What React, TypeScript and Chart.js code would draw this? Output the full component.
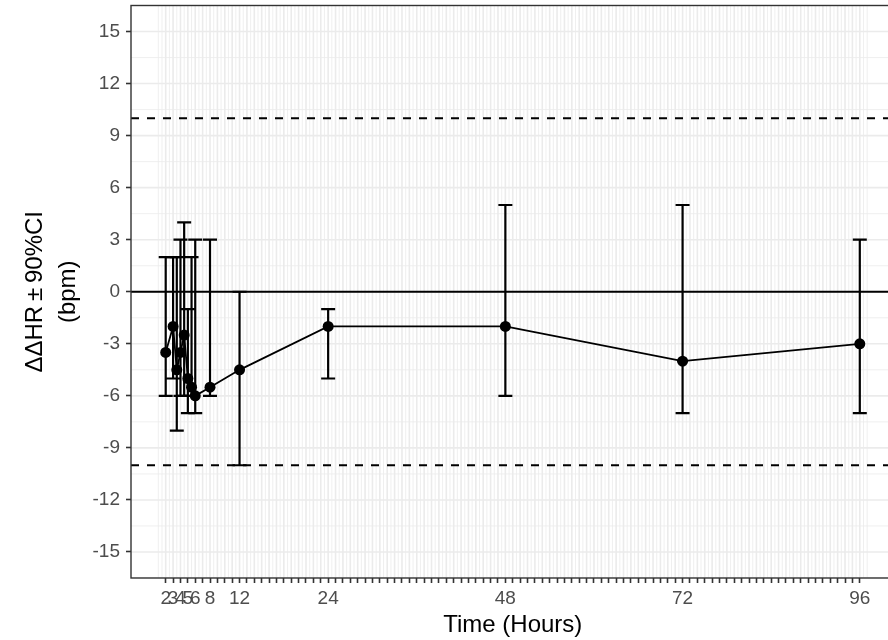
import React, { useEffect, useRef } from "react";
import { Chart, registerables } from "chart.js";

Chart.register(...registerables);

// ---- data ----
const times = [2, 3, 3.5, 4, 4.5, 5, 5.5, 6, 8, 12, 24, 48, 72, 96];
const meanHR = [-3.5, -2, -4.5, -3.5, -2.5, -5, -5.5, -6, -5.5, -4.5, -2, -2, -4, -3];
const lowerCI = [-6, -5, -8, -6, -6, -7, -6, -7, -6, -10, -5, -6, -7, -7];
const upperCI = [2, 2, 2, 3, 4, -1, 2, 3, 3, 0, -1, 5, 5, 3];
const labeledHours = [2, 3, 4, 5, 6, 8, 12, 24, 48, 72, 96];
const hourTicks = Array.from({ length: 95 }, (_, i) => i + 2); // 2..96
const yTicks = [-15, -12, -9, -6, -3, 0, 3, 6, 9, 12, 15];
const limitLines = [-10, 10];
const zeroLine = [0];
const xTitle = "Time (Hours)";
const yTitleLines = ["\u0394\u0394HR\u2009\u00B1\u200990%CI", "(bpm)"];

const X_MIN = -2.7;
const X_MAX = 100.7;
const Y_MIN = -16.5;
const Y_MAX = 16.5;

const FONT = "'Liberation Sans', Arial, sans-serif";

const gridPlugin = {
  id: "ggGrid",
  beforeDatasetsDraw(chart: any) {
    const { ctx, chartArea: a, scales } = chart;
    const x = scales.x;
    const y = scales.y;
    ctx.save();
    ctx.beginPath();
    ctx.rect(a.left, a.top, a.right - a.left, a.bottom - a.top);
    ctx.clip();
    ctx.strokeStyle = "#EBEBEB";
    // minor grid
    ctx.lineWidth = 0.8;
    for (let k = 2; k <= 194; k++) {
      const v = k / 2;
      if (Number.isInteger(v) && v >= 2 && v <= 96) continue;
      const px = x.getPixelForValue(v);
      ctx.beginPath();
      ctx.moveTo(px, a.top);
      ctx.lineTo(px, a.bottom);
      ctx.stroke();
    }
    for (let v = -16.5; v <= 16.5; v += 3) {
      const py = y.getPixelForValue(v);
      ctx.beginPath();
      ctx.moveTo(a.left, py);
      ctx.lineTo(a.right, py);
      ctx.stroke();
    }
    // major grid
    ctx.lineWidth = 1.6;
    hourTicks.forEach((v) => {
      const px = x.getPixelForValue(v);
      ctx.beginPath();
      ctx.moveTo(px, a.top);
      ctx.lineTo(px, a.bottom);
      ctx.stroke();
    });
    yTicks.forEach((v) => {
      const py = y.getPixelForValue(v);
      ctx.beginPath();
      ctx.moveTo(a.left, py);
      ctx.lineTo(a.right, py);
      ctx.stroke();
    });
    // error bars
    ctx.strokeStyle = "#000000";
    ctx.lineWidth = 2.2;
    const half = 7;
    times.forEach((t, i) => {
      const px = x.getPixelForValue(t);
      const pLo = y.getPixelForValue(lowerCI[i]);
      const pHi = y.getPixelForValue(upperCI[i]);
      ctx.beginPath();
      ctx.moveTo(px, pLo);
      ctx.lineTo(px, pHi);
      ctx.moveTo(px - half, pLo);
      ctx.lineTo(px + half, pLo);
      ctx.moveTo(px - half, pHi);
      ctx.lineTo(px + half, pHi);
      ctx.stroke();
    });
    ctx.restore();
  },
  afterDraw(chart: any) {
    const { ctx, chartArea: a } = chart;
    ctx.save();
    ctx.strokeStyle = "#333333";
    ctx.lineWidth = 1.4;
    ctx.strokeRect(a.left, a.top, a.right - a.left, a.bottom - a.top);
    ctx.fillStyle = "#000000";
    ctx.font = `24px ${FONT}`;
    ctx.textAlign = "center";
    ctx.textBaseline = "middle";
    ctx.fillText(xTitle, (a.left + a.right) / 2, 625);
    const cy = (a.top + a.bottom) / 2;
    const cols = [35, 68];
    yTitleLines.forEach((line, i) => {
      ctx.save();
      ctx.translate(cols[i], cy);
      ctx.rotate(-Math.PI / 2);
      ctx.fillText(line, 0, 0);
      ctx.restore();
    });
    ctx.restore();
  },
};

const hline = (v: number, dash: number[]) => ({
  type: "line" as const,
  data: [
    { x: X_MIN, y: v },
    { x: X_MAX, y: v },
  ],
  borderColor: "#000000",
  borderWidth: 1.8,
  borderDash: dash,
  pointRadius: 0,
  fill: false,
});

export default function App() {
  const ref = useRef<HTMLCanvasElement | null>(null);
  useEffect(() => {
    if (!ref.current) return;
    const chart = new Chart(ref.current, {
      type: "line",
      data: {
        datasets: [
          {
            data: times.map((t, i) => ({ x: t, y: meanHR[i] })),
            borderColor: "#000000",
            borderWidth: 1.8,
            pointRadius: 5.5,
            pointBackgroundColor: "#000000",
            pointBorderWidth: 0,
            fill: false,
          } as any,
          ...zeroLine.map((v) => hline(v, [])),
          ...limitLines.map((v) => hline(v, [8, 8])),
        ],
      },
      options: {
        animation: false,
        responsive: false,
        layout: { padding: { top: 3, right: 2, bottom: 0, left: 0 } },
        plugins: { legend: { display: false }, tooltip: { enabled: false } },
        scales: {
          x: {
            type: "linear",
            min: X_MIN,
            max: X_MAX,
            afterBuildTicks: (s: any) => {
              s.ticks = hourTicks.map((v) => ({ value: v }));
            },
            afterFit: (s: any) => {
              s.height = 62;
              s.paddingLeft = 0;
              s.paddingRight = 0;
            },
            ticks: {
              autoSkip: false,
              maxRotation: 0,
              minRotation: 0,
              padding: 4,
              color: "#4D4D4D",
              font: { family: FONT, size: 19 },
              callback: (v: any) => (labeledHours.includes(Number(v)) ? String(v) : ""),
            },
            grid: {
              display: true,
              drawOnChartArea: false,
              drawTicks: true,
              tickLength: 5,
              tickColor: "#333333",
              tickWidth: 1.6,
            },
            border: { display: false },
          },
          y: {
            type: "linear",
            min: Y_MIN,
            max: Y_MAX,
            afterBuildTicks: (s: any) => {
              s.ticks = yTicks.map((v) => ({ value: v }));
            },
            afterFit: (s: any) => {
              s.width = 131;
              s.paddingTop = 0;
              s.paddingBottom = 0;
            },
            ticks: {
              padding: 6,
              color: "#4D4D4D",
              font: { family: FONT, size: 19 },
              callback: (v: any) => String(v),
            },
            grid: {
              display: true,
              drawOnChartArea: false,
              drawTicks: true,
              tickLength: 5,
              tickColor: "#333333",
              tickWidth: 1.6,
            },
            border: { display: false },
          },
        },
      } as any,
      plugins: [gridPlugin],
    });
    return () => chart.destroy();
  }, []);
  return (
    <div
      style={{
        position: "fixed",
        left: 0,
        top: 0,
        width: 888,
        height: 640,
        overflow: "hidden",
        background: "#ffffff",
      }}
    >
      <canvas ref={ref} width={900} height={640} style={{ display: "block", width: 900, height: 640 }} />
    </div>
  );
}
